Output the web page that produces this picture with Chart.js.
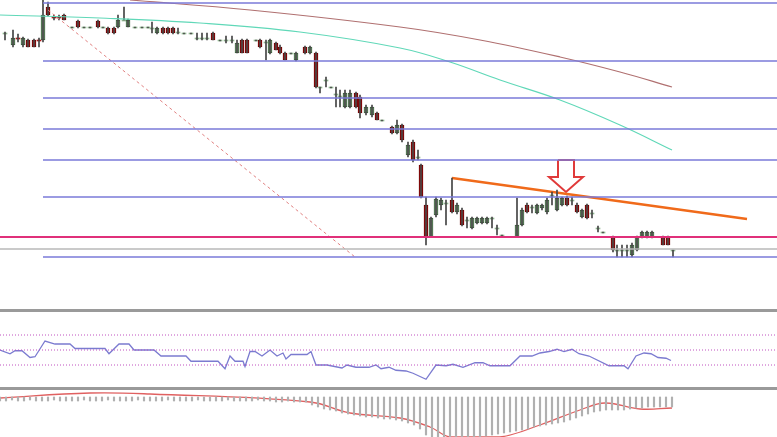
<!DOCTYPE html>
<html><head><meta charset="utf-8">
<script src="https://cdn.jsdelivr.net/npm/chart.js@4/dist/chart.umd.min.js"></script>
<style>html,body{margin:0;padding:0;background:#fff;overflow:hidden}#w{position:relative;width:777px;height:437px}
.sep{position:absolute;left:0;width:777px;height:3px;background:#9a9a9a}</style></head>
<body><div id="w"><canvas id="c" width="777" height="437"></canvas>
<div class="sep" style="top:309px"></div><div class="sep" style="top:387px"></div></div>
<script>
// Candles: time, open, high, low, close (price units)
const candleT=[5,13,18,23,28,34,39,43,48,54,59,64,72,78,84,90,98,103,108,114,118,124,128,135,142,148,152,157,163,168,173,178,184,191,197,202,207,213,220,226,232,237,242,247,256,260,266,270,276,280,285,291,296,305,310,316,320,326,331,336,340,345,350,356,360,366,372,377,382,392,397,402,408,413,418,421,426,431,436,441,446,452,457,462,467,472,477,482,487,492,497,502,517,522,527,532,537,542,547,552,557,562,567,572,577,582,587,592,598,603,613,617,622,627,632,637,642,647,652,663,668,673];
const candleO=[367,355,362,355,360,360,360,360,393,383,383,385,373,379,373,373,379,373,372,372,373,380,373,373,373,373,372,367,372,372,372,368,367,367,362,362,362,367,360,360,360,347,360,360,360,360,358,347,357,353,347,347,340,353,347,347,313,320,313,306,304,293,293,307,303,287,285,287,280,273,267,275,245,258,243,235,195,163,185,195,197,200,188,190,180,172,177,177,177,182,172,165,163,175,195,193,187,192,188,205,190,195,202,200,195,183,195,187,172,168,163,150,150,150,145,150,163,163,163,163,163,150];
const candleH=[368,370,366,363,361,361,362,400,398,385,385,386,373,380,373,373,380,373,373,373,385,393,381,373,373,373,378,373,373,373,373,372,367,367,367,367,367,368,360,364,364,360,361,361,360,361,360,361,358,355,348,347,348,354,354,348,313,323,313,313,310,310,310,308,305,295,295,288,280,274,280,276,258,260,250,236,203,183,203,202,200,222,197,192,183,183,183,183,183,183,175,165,202,192,197,195,196,196,202,208,210,203,204,203,197,191,196,190,174,168,164,155,155,155,157,164,169,169,169,164,164,150];
const candleL=[360,353,358,353,353,353,353,358,384,380,380,380,373,372,373,373,372,373,366,366,372,380,373,373,373,373,367,366,366,366,366,366,367,367,360,360,360,360,360,357,357,347,347,347,360,352,340,346,350,346,340,347,339,346,346,312,307,313,313,293,293,292,292,292,282,285,283,280,280,266,266,258,243,238,240,202,155,163,183,190,175,187,186,174,172,171,176,176,176,172,165,165,163,174,187,187,186,190,186,195,189,194,194,195,187,182,181,182,168,168,148,143,143,143,143,149,162,162,162,155,155,143];
const candleC=[367,362,361,362,353,353,359,385,385,382,382,380,373,373,373,373,373,373,367,367,380,380,380,373,373,373,372,372,367,367,367,368,367,367,362,362,362,360,360,360,360,357,347,347,360,353,358,360,350,347,340,347,347,347,353,313,313,320,313,306,304,307,307,293,287,293,293,280,280,267,275,260,255,240,243,203,163,182,201,200,197,188,195,175,180,182,182,182,182,182,172,165,175,190,188,193,195,195,200,205,202,202,195,200,188,190,182,187,172,168,150,150,150,150,155,163,168,168,168,155,155,150];
// Overlays
const maFastT=[0,100,200,300,400,450,500,560,620,672], maFast=[385,382,377,368,352,338,320,300,275,250];
const maSlowT=[130,250,400,480,560,620,672], maSlow=[400,390,373,360,343,328,313];
const fibLevels=[397,339,302,271,240,203,143];
const supportLevel=163, lowLevel=151;
const diagT=[48,355], diagP=[390,143];
const trendT=[452,747], trendP=[222,181];
const arrowT=[558,574,574,583,566,549,558,558], arrowP=[240,240,223,223,208,223,223,240];
// RSI
const rsiT=[0,10,15,22,30,35,45,55,70,75,105,109,119,129,134,154,161,186,191,218,225,230,235,243,245,250,255,262,270,277,283,286,291,307,311,316,327,342,347,356,369,376,381,389,396,406,413,426,436,446,453,463,475,483,490,510,520,532,540,549,557,564,572,579,589,609,624,628,636,644,651,658,666,671];
const rsiV=[50,45,49,49,40,41,62,58,58,52,52,45,58,58,50,50,42,42,35,35,25,42,35,35,28,48,48,42,50,42,46,38,44,44,48,30,30,26,30,27,27,30,25,27,23,22,19,11,30,29,31,27,33,33,29,29,42,42,46,48,51,48,51,45,42,29,29,25,42,46,45,40,39,36];
const rsiLevels=[70,50,30];
// MACD
const macdHist=[-4,-4,-3,-4,-4,-3,-4,-4,-4,-3,-4,-4,-4,-4,-3,-4,-4,-4,-3,-4,-4,-4,-4,-3,-4,-4,-4,-4,-3,-4,-4,-4,-4,-3,-4,-4,-4,-4,-3,-4,-4,-4,-4,-3,-4,-4,-5,-5,-4,-5,-5,-5,-8,-10,-12,-13,-14,-16,-17,-18,-19,-20,-20,-21,-22,-22,-23,-24,-26,-28,-32,-38,-42,-44,-44,-43,-42,-42,-41,-40,-40,-39,-38,-37,-36,-35,-34,-33,-32,-30,-29,-28,-27,-26,-25,-23,-21,-19,-17,-15,-14,-13,-13,-13,-13,-12,-11,-11,-10,-10,-10,-10,-10];
const sigT=[0,90,150,310,350,400,430,450,500,540,580,605,640,672], sigV=[-1,4,3,-5,-16,-21,-30,-40,-40,-28,-13,-6,-12,-11];

const pts=(t,v)=>t.map((x,i)=>({x,y:v[i]}));
const up=i=>candleC[i]>=candleO[i];
const ds=[];
fibLevels.forEach(p=>ds.push({type:'line',data:[{x:43,y:p},{x:777,y:p}],borderColor:'#7a7ad8',borderWidth:1.5,pointRadius:0,yAxisID:'y'}));
ds.push({type:'line',data:[{x:0,y:supportLevel},{x:777,y:supportLevel}],borderColor:'#e0307a',borderWidth:2,pointRadius:0,yAxisID:'y'});
ds.push({type:'line',data:[{x:0,y:lowLevel},{x:777,y:lowLevel}],borderColor:'#b8b8b8',borderWidth:1.5,pointRadius:0,yAxisID:'y'});
ds.push({type:'line',data:pts(diagT,diagP),borderColor:'#e08080',borderWidth:1,borderDash:[3,3],pointRadius:0,yAxisID:'y'});
ds.push({type:'line',data:pts(maSlowT,maSlow),borderColor:'#b07070',borderWidth:1.2,pointRadius:0,tension:0.4,yAxisID:'y'});
ds.push({type:'line',data:pts(maFastT,maFast),borderColor:'#60d8b8',borderWidth:1.2,pointRadius:0,tension:0.4,yAxisID:'y'});
ds.push({type:'bar',data:candleT.map((x,i)=>({x,y:[candleL[i],candleH[i]]})),backgroundColor:'#444',barThickness:1,grouped:false,yAxisID:'y',minBarLength:1});
ds.push({type:'bar',data:candleT.map((x,i)=>({x,y:[candleO[i],candleC[i]]})),grouped:false,barThickness:4,minBarLength:1,yAxisID:'y',
  backgroundColor:c=>up(c.dataIndex)?'#8fb58f':'#b01818',borderColor:c=>up(c.dataIndex)?'#3a5a3a':'#600',borderWidth:c=>Math.abs(candleO[c.dataIndex]-candleC[c.dataIndex])>2?1:0,borderSkipped:false});
ds.push({type:'line',data:pts(trendT,trendP),borderColor:'#f06a1a',borderWidth:2.5,pointRadius:0,yAxisID:'y'});
ds.push({type:'line',data:pts(arrowT,arrowP),borderColor:'#e03a3a',borderWidth:2,pointRadius:0,yAxisID:'y'});
rsiLevels.forEach(v=>ds.push({type:'line',data:[{x:0,y:v},{x:777,y:v}],borderColor:'#c050c0',borderWidth:1,borderDash:[1,2],pointRadius:0,yAxisID:'yr'}));
ds.push({type:'line',data:pts(rsiT,rsiV),borderColor:'#7b7bd0',borderWidth:1.3,pointRadius:0,yAxisID:'yr'});
ds.push({type:'bar',data:macdHist.map((v,i)=>({x:i*6,y:[0,v]})),backgroundColor:'#b0b0b0',barThickness:1.5,grouped:false,yAxisID:'ym'});
ds.push({type:'line',data:pts(sigT,sigV),borderColor:'#e06060',borderWidth:1.3,pointRadius:0,tension:0.4,yAxisID:'ym'});

new Chart(document.getElementById('c'),{data:{datasets:ds},options:{responsive:false,animation:false,
 layout:{padding:0},plugins:{legend:{display:false},tooltip:{enabled:false}},
 scales:{x:{type:'linear',min:0,max:777,offset:false,display:false},
  y:{min:-37,max:400,display:false},yr:{min:-66,max:516.7,display:false},ym:{min:-40,max:397,display:false}}}});
</script></body></html>
